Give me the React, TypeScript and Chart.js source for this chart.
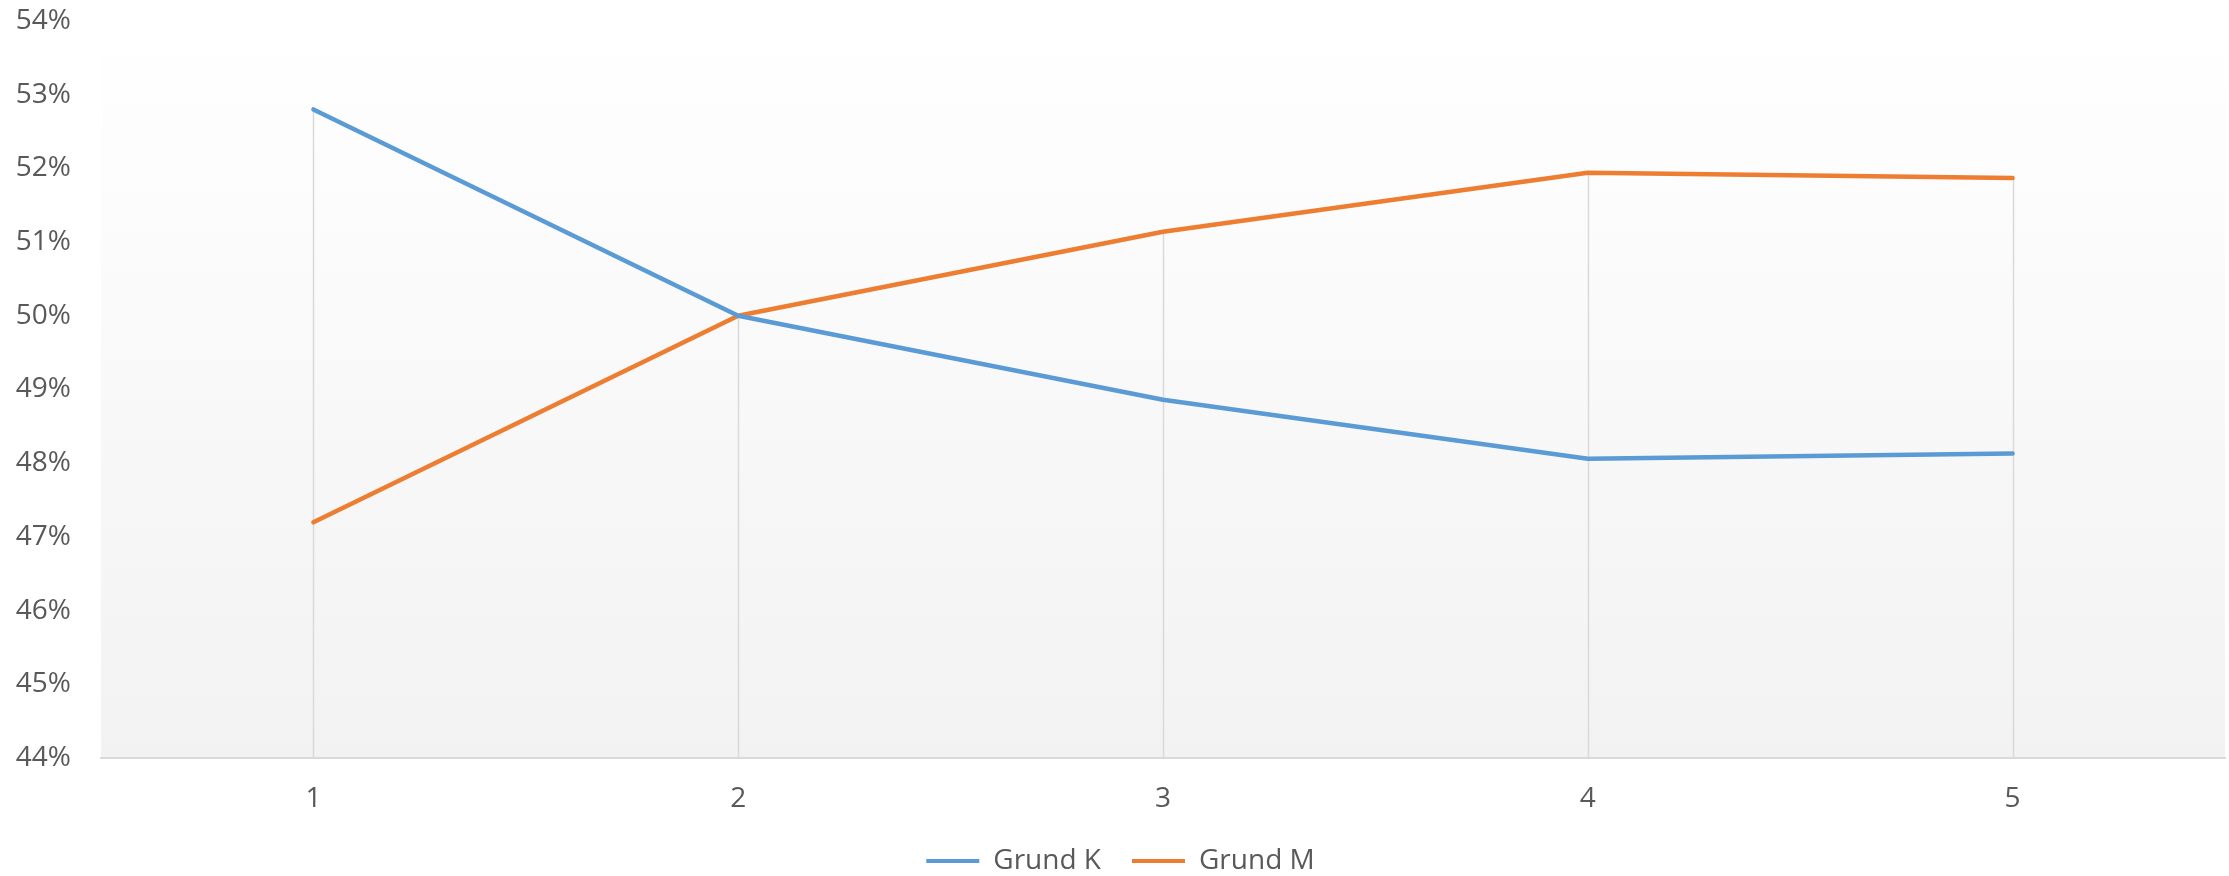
import React, { useEffect, useRef } from "react";
import { Chart, registerables } from "chart.js";

Chart.register(...registerables);

const categories = ["1", "2", "3", "4", "5"];
const grundK = [52.8, 50.0, 48.86, 48.06, 48.13];
const grundM = [47.2, 50.0, 51.14, 51.94, 51.87];
const yMin = 44;
const yMax = 54;
const yStep = 1;

const seriesNames = ["Grund K", "Grund M"];
const seriesColors = ["#5B9BD5", "#ED7D31"];

const FONT = "'Open Sans', 'DejaVu Sans', sans-serif";
const TEXT = "#595959";

const plotDecor = {
  id: "plotDecor",
  afterInit(chart: any) {
    const lg = chart.legend;
    if (lg && !lg.__patched) {
      const orig = lg.fit.bind(lg);
      lg.fit = function () {
        orig();
        this.height = 60;
      };
      lg.__patched = true;
    }
  },
  beforeDraw(chart: any) {
    const { ctx, chartArea } = chart;
    const { left, right, top, bottom } = chartArea;
    const g = ctx.createLinearGradient(0, top, 0, bottom);
    g.addColorStop(0, "#ffffff");
    g.addColorStop(1, "#f2f2f2");
    ctx.save();
    ctx.fillStyle = g;
    ctx.fillRect(left, top, right - left, bottom - top);
    ctx.restore();
  },
  beforeDatasetsDraw(chart: any) {
    const { ctx } = chart;
    const xs = chart.scales.x;
    const ys = chart.scales.y;
    ctx.save();
    ctx.strokeStyle = "#d9d9d9";
    ctx.lineWidth = 1.5;
    categories.forEach((_, i) => {
      const px = Math.round(xs.getPixelForValue(i)) + 0.5;
      const hi = Math.max(grundK[i], grundM[i]);
      ctx.beginPath();
      ctx.moveTo(px, ys.getPixelForValue(hi));
      ctx.lineTo(px, ys.getPixelForValue(yMin));
      ctx.stroke();
    });
    ctx.restore();
  },
};

export default function App() {
  const ref = useRef<HTMLCanvasElement | null>(null);

  useEffect(() => {
    document.body.style.margin = "0";
    if (!ref.current) return;
    const chart = new Chart(ref.current, {
      type: "line",
      data: {
        labels: categories,
        datasets: [grundK, grundM].map((d, i) => ({
          label: seriesNames[i],
          data: d,
          borderColor: seriesColors[i],
          backgroundColor: seriesColors[i],
          borderWidth: 4.5,
          borderCapStyle: "round" as const,
          borderJoinStyle: "round" as const,
          pointRadius: 0,
          pointHoverRadius: 0,
          tension: 0,
          fill: false,
        })),
      },
      options: {
        responsive: false,
        maintainAspectRatio: false,
        animation: false,
        layout: { padding: { left: 16, right: 4, top: 0, bottom: 0 } },
        plugins: {
          tooltip: { enabled: false },
          legend: {
            position: "bottom",
            labels: {
              boxWidth: 53,
              boxHeight: 4,
              padding: 31,
              color: TEXT,
              font: { family: FONT, size: 28 },
              generateLabels: (chart: any) =>
                chart.data.datasets.map((ds: any, i: number) => ({
                  text: ds.label,
                  fillStyle: seriesColors[i],
                  strokeStyle: seriesColors[i],
                  lineWidth: 0,
                  fontColor: TEXT,
                  hidden: false,
                  datasetIndex: i,
                })),
            },
          },
        },
        scales: {
          x: {
            offset: true,
            grid: { display: false, drawTicks: false },
            border: { display: true, color: "#d9d9d9", width: 2 },
            afterFit: (s: any) => {
              s.height = 58;
            },
            ticks: {
              color: TEXT,
              padding: 24,
              font: { family: FONT, size: 28 },
            },
          },
          y: {
            min: yMin,
            max: yMax,
            grid: { display: false, drawTicks: false },
            border: { display: false },
            afterFit: (s: any) => {
              s.width = 85;
              s.paddingTop = 21;
              s.paddingBottom = 0;
            },
            ticks: {
              stepSize: yStep,
              padding: 30,
              color: TEXT,
              font: { family: FONT, size: 28 },
              callback: (v: any) => `${v}%`,
            },
          },
        },
      },
      plugins: [plotDecor],
    });
    return () => chart.destroy();
  }, []);

  return (
    <div style={{ width: 2229, height: 876 }}>
      <canvas ref={ref} width={2229} height={876} style={{ display: "block" }} />
    </div>
  );
}
